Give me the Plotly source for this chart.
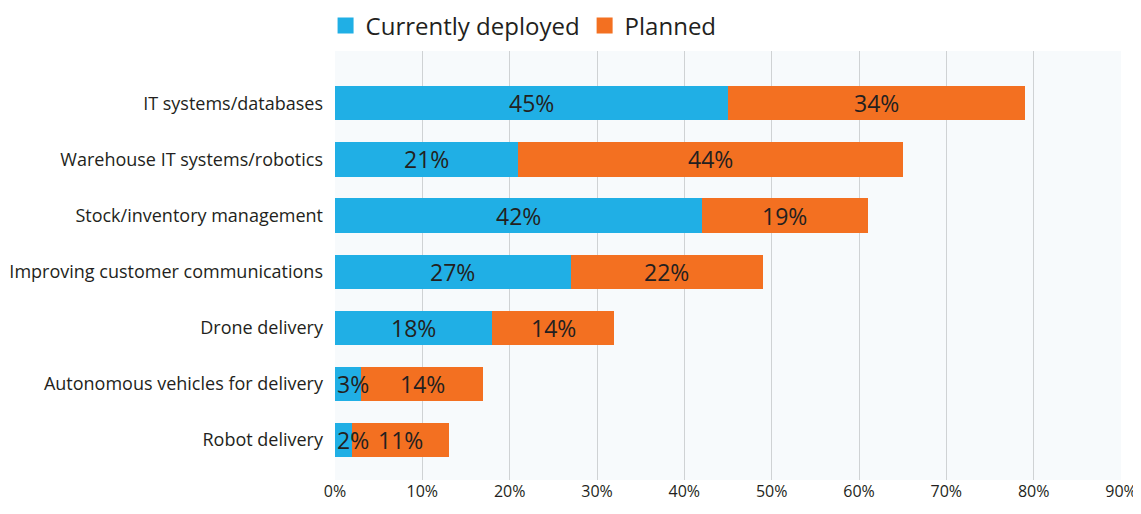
import plotly.graph_objects as go

categories = [
    "IT systems/databases",
    "Warehouse IT systems/robotics",
    "Stock/inventory management",
    "Improving customer communications",
    "Drone delivery",
    "Autonomous vehicles for delivery",
    "Robot delivery",
]
deployed = [45, 21, 42, 27, 18, 3, 2]
planned = [34, 44, 19, 22, 14, 14, 11]
tick_vals = [0, 10, 20, 30, 40, 50, 60, 70, 80, 90]
tick_text = [f"{v}%" for v in tick_vals]

BLUE = "#20afe5"
ORANGE = "#f37021"
TXT = "#231f20"
FONT = "Open Sans"

fig = go.Figure()
fig.add_trace(go.Bar(
    y=categories, x=deployed, orientation="h", name="Currently deployed",
    marker=dict(color=BLUE, line=dict(width=0)), width=0.61, showlegend=False,
))
fig.add_trace(go.Bar(
    y=categories, x=planned, orientation="h", name="Planned",
    marker=dict(color=ORANGE, line=dict(width=0)), width=0.61, showlegend=False,
))
# legend entries with larger square swatches
for name, col in (("Currently deployed", BLUE), ("Planned", ORANGE)):
    fig.add_trace(go.Scatter(
        x=[None], y=[None], mode="markers", name=name,
        marker=dict(symbol="square", size=19, color=col), showlegend=True,
    ))

annotations = []
for cat, d, p in zip(categories, deployed, planned):
    for base, v in ((0, d), (d, p)):
        if v < 5:
            annotations.append(dict(x=base, y=cat, text=f"{v}%", xanchor="left",
                                    showarrow=False, xshift=0,
                                    font=dict(size=23, color=TXT, family=FONT)))
        else:
            annotations.append(dict(x=base + v / 2, y=cat, text=f"{v}%", xanchor="center",
                                    showarrow=False,
                                    font=dict(size=23, color=TXT, family=FONT)))

fig.update_layout(
    barmode="stack",
    width=1133, height=498,
    margin=dict(l=327, r=20, t=43, b=26, autoexpand=False),
    paper_bgcolor="white",
    plot_bgcolor="#f7fafc",
    font=dict(family=FONT, color=TXT, size=17),
    showlegend=True,
    legend=dict(orientation="h", x=-0.012, xanchor="left", y=1.006, yanchor="bottom",
                font=dict(size=24, color=TXT, family=FONT), traceorder="normal",
                itemwidth=30, bgcolor="rgba(0,0,0,0)", tracegroupgap=0),
    annotations=annotations,
    xaxis=dict(range=[0, 90], tickvals=tick_vals, ticktext=tick_text,
               showgrid=True, gridcolor="#cfd2d4", gridwidth=1, zeroline=False,
               showline=False, ticks="", tickfont=dict(size=16, color=TXT),
               ticklabeloverflow="allow", automargin=False),
    yaxis=dict(categoryorder="array", categoryarray=categories,
               range=[6.71, -0.93], showgrid=False, zeroline=False,
               ticks="", ticklabelstandoff=11, tickfont=dict(size=18, color=TXT),
               automargin=False),
)

fig.write_html("out.html")
